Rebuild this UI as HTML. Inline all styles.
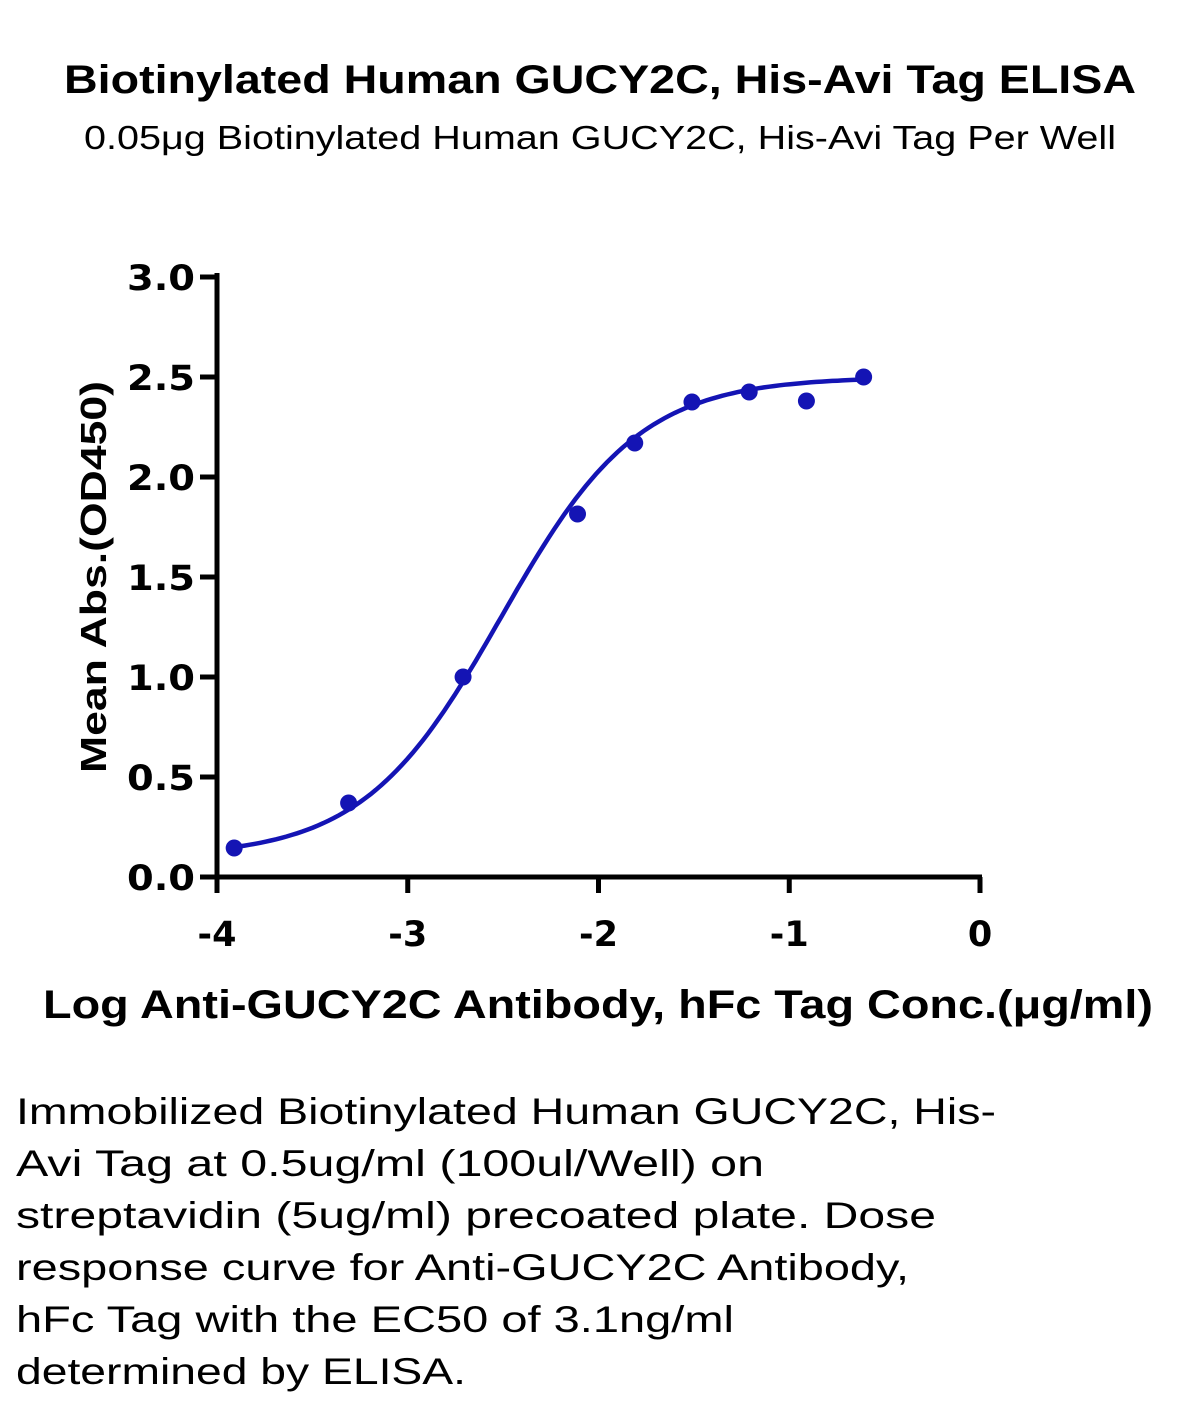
<!DOCTYPE html>
<html><head><meta charset="utf-8"><style>
body{margin:0;background:#fff;}
svg{display:block;}
text{font-family:"Liberation Sans","DejaVu Sans",sans-serif;}
</style></head><body>
<svg width="1199" height="1408" viewBox="0 0 1199 1408">
<text x="600" y="93" text-anchor="middle" font-size="40" font-weight="bold" textLength="1072" lengthAdjust="spacingAndGlyphs">Biotinylated Human GUCY2C, His-Avi Tag ELISA</text>
<text x="600" y="149" text-anchor="middle" font-size="33" textLength="1032" lengthAdjust="spacingAndGlyphs">0.05μg Biotinylated Human GUCY2C, His-Avi Tag Per Well</text>
<g id="axes"></g>
<g id="marks"></g>
<text transform="translate(106,577) rotate(-90)" text-anchor="middle" font-size="36" font-weight="bold" textLength="392" lengthAdjust="spacingAndGlyphs">Mean Abs.(OD450)</text>
<text x="598" y="1018" text-anchor="middle" font-size="40" font-weight="bold" textLength="1110" lengthAdjust="spacingAndGlyphs">Log Anti-GUCY2C Antibody, hFc Tag Conc.(μg/ml)</text>
<g font-size="37">
<text x="16" y="1124" textLength="980" lengthAdjust="spacingAndGlyphs">Immobilized Biotinylated Human GUCY2C, His-</text>
<text x="16" y="1176" textLength="748" lengthAdjust="spacingAndGlyphs">Avi Tag at 0.5ug/ml (100ul/Well) on</text>
<text x="16" y="1228" textLength="920" lengthAdjust="spacingAndGlyphs">streptavidin (5ug/ml) precoated plate. Dose</text>
<text x="16" y="1280" textLength="893" lengthAdjust="spacingAndGlyphs">response curve for Anti-GUCY2C Antibody,</text>
<text x="16" y="1332" textLength="718" lengthAdjust="spacingAndGlyphs">hFc Tag with the EC50 of 3.1ng/ml</text>
<text x="16" y="1384" textLength="450" lengthAdjust="spacingAndGlyphs">determined by ELISA.</text>
</g>
</svg>
<script>
const xTicks=[-4,-3,-2,-1,0];
const yTicks=[0,0.5,1.0,1.5,2.0,2.5,3.0];
const logConc=[-3.91,-3.31,-2.71,-2.11,-1.81,-1.51,-1.21,-0.91,-0.61];
const absorbance=[0.145,0.37,1.0,1.815,2.17,2.375,2.425,2.38,2.5];
const fitBottom=0.1, fitTop=2.5, fitLogEC50=-2.51, fitHill=1.2;
const NS='http://www.w3.org/2000/svg';
const X0=217,X1=980,Y0=877,Y1=277;
const sx=v=>X0+(v-(-4))/(0-(-4))*(X1-X0);
const sy=v=>Y0-(v-0)/(3-0)*(Y0-Y1);
const axes=document.getElementById('axes'),marks=document.getElementById('marks');
function mk(t,a,p){const e=document.createElementNS(NS,t);for(const k in a)e.setAttribute(k,a[k]);p.appendChild(e);return e;}
let ya=mk('line',{x1:X0,y1:Y1-4,x2:X0,y2:Y0+2,stroke:'#000','stroke-width':5},axes);


let xa=mk('line',{x1:X0-2,y1:Y0,x2:X1+2,y2:Y0,stroke:'#000','stroke-width':5},axes);


const tickStyle='font-family:"DejaVu Sans",sans-serif;font-weight:bold;font-size:35px;';
yTicks.forEach(v=>{
 mk('line',{x1:X0-17,y1:sy(v),x2:X0,y2:sy(v),stroke:'#000','stroke-width':5},axes);
 const t=mk('text',{x:X0-22,y:sy(v)+13,'text-anchor':'end',style:tickStyle,textLength:68,lengthAdjust:'spacingAndGlyphs'},axes);
 t.textContent=v.toFixed(1);
 
 
});
xTicks.forEach(v=>{
 mk('line',{x1:sx(v),y1:Y0,x2:sx(v),y2:Y0+16,stroke:'#000','stroke-width':5},axes);
 const t=mk('text',{x:sx(v),y:946,'text-anchor':'middle',style:tickStyle},axes);
 t.textContent=String(v);
 
 
});
const fit=x=>fitBottom+(fitTop-fitBottom)/(1+Math.pow(10,(fitLogEC50-x)*fitHill));
let d='';const a=logConc[0],b=logConc[logConc.length-1];
for(let i=0;i<=120;i++){const x=a+(b-a)*i/120;d+=(i?'L':'M')+sx(x).toFixed(1)+' '+sy(fit(x)).toFixed(1);}
const c=mk('path',{d:d,fill:'none',stroke:'#1414b4','stroke-width':4.5},marks);


logConc.forEach((x,i)=>{
 const p=mk('circle',{cx:sx(x),cy:sy(absorbance[i]),r:8.5,fill:'#1414b4'},marks);
 
 
});
</script>
</body></html>
